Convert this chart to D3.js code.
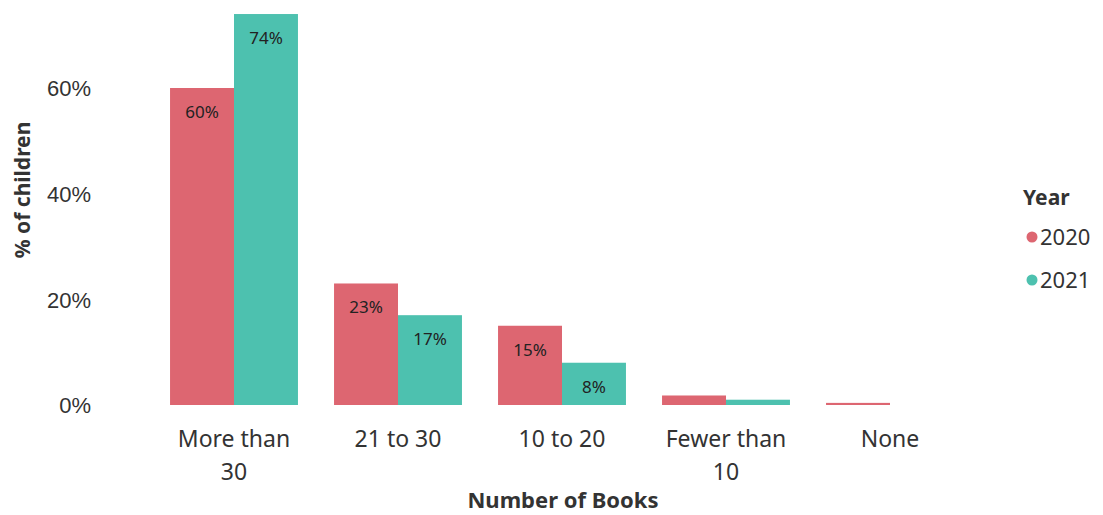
<!DOCTYPE html>
<html>
<head>
<meta charset="utf-8">
<script src="https://cdn.jsdelivr.net/npm/d3@7"></script>
<style>
  html, body { margin: 0; padding: 0; background: #fff; }
  svg { display: block; font-family: "Noto Sans", "Open Sans", sans-serif; }
</style>
</head>
<body>
<svg id="chart" width="1103" height="515"></svg>
<script>
// Book ownership by number of books, per survey year
const categories = ["More than 30", "21 to 30", "10 to 20", "Fewer than 10", "None"];
const categoryLines = [["More than", "30"], ["21 to 30"], ["10 to 20"], ["Fewer than", "10"], ["None"]];
const years = ["2020", "2021"];
const values2020 = [60, 23, 15, 1.8, 0.4];
const values2021 = [74, 17, 8, 1, 0];
const shownLabels2020 = ["60%", "23%", "15%", null, null];
const shownLabels2021 = ["74%", "17%", "8%", null, null];
const yTicks = [0, 20, 40, 60];

const colors = { "2020": "#DD6671", "2021": "#4DC1AF" };

const svg = d3.select("#chart");

const x = d3.scaleBand().domain(categories).range([152, 972]).paddingInner(0.22).paddingOuter(0.11);
const xs = d3.scaleBand().domain(years).range([0, x.bandwidth()]);
const y = d3.scaleLinear().domain([0, 60]).range([405, 88]);

const rows = categories.map((c, i) => ({
  cat: c,
  lines: categoryLines[i],
  bars: [
    { year: "2020", v: values2020[i], label: shownLabels2020[i] },
    { year: "2021", v: values2021[i], label: shownLabels2021[i] }
  ]
}));

// y axis tick labels
const yAxis = d3.axisLeft(y).tickValues(yTicks).tickFormat(d => d + "%").tickSize(0).tickPadding(0);
const gy = svg.append("g").attr("transform", "translate(91,0)").call(yAxis);
gy.select(".domain").remove();
gy.selectAll("text").attr("font-size", 22).attr("fill", "#333").attr("font-family", "inherit").attr("dy", "0.35em");

// bars
const groups = svg.append("g").selectAll("g").data(rows).join("g")
  .attr("transform", d => `translate(${x(d.cat)},0)`);

groups.selectAll("rect").data(d => d.bars).join("rect")
  .attr("x", d => xs(d.year))
  .attr("width", xs.bandwidth())
  .attr("y", d => y(d.v))
  .attr("height", d => y(0) - y(d.v))
  .attr("fill", d => colors[d.year]);

groups.selectAll("text.val").data(d => d.bars.filter(b => b.label)).join("text")
  .attr("class", "val")
  .attr("x", d => xs(d.year) + xs.bandwidth() / 2)
  .attr("y", d => y(d.v) + 30)
  .attr("text-anchor", "middle")
  .attr("font-size", 17)
  .attr("fill", "#222")
  .text(d => d.label);

// x axis category labels
const xl = svg.append("g").selectAll("text").data(rows).join("text")
  .attr("x", d => x(d.cat) + x.bandwidth() / 2)
  .attr("y", 447)
  .attr("text-anchor", "middle")
  .attr("font-size", 23)
  .attr("fill", "#333");
xl.selectAll("tspan").data(d => d.lines.map(l => ({ l, cx: x(d.cat) + x.bandwidth() / 2 }))).join("tspan")
  .attr("x", d => d.cx)
  .attr("dy", (d, i) => i === 0 ? 0 : 33)
  .text(d => d.l);

// axis titles
svg.append("text")
  .attr("x", 563).attr("y", 508)
  .attr("text-anchor", "middle")
  .attr("font-size", 22).attr("font-weight", "bold").attr("fill", "#333")
  .text("Number of Books");

svg.append("text")
  .attr("transform", "translate(30,190) rotate(-90)")
  .attr("text-anchor", "middle")
  .attr("font-size", 21).attr("font-weight", "bold").attr("fill", "#333")
  .text("% of children");

// legend
const legend = svg.append("g");
legend.append("text").attr("x", 1023).attr("y", 205)
  .attr("font-size", 21).attr("font-weight", "bold").attr("fill", "#333").text("Year");
const li = legend.selectAll("g.item").data(years).join("g").attr("class", "item")
  .attr("transform", (d, i) => `translate(0,${237 + i * 43})`);
li.append("circle").attr("cx", 1032).attr("cy", 0).attr("r", 5.5).attr("fill", d => colors[d]);
li.append("text").attr("x", 1040).attr("y", 0).attr("dy", "0.35em")
  .attr("font-size", 22).attr("fill", "#333").text(d => d);
</script>
</body>
</html>
